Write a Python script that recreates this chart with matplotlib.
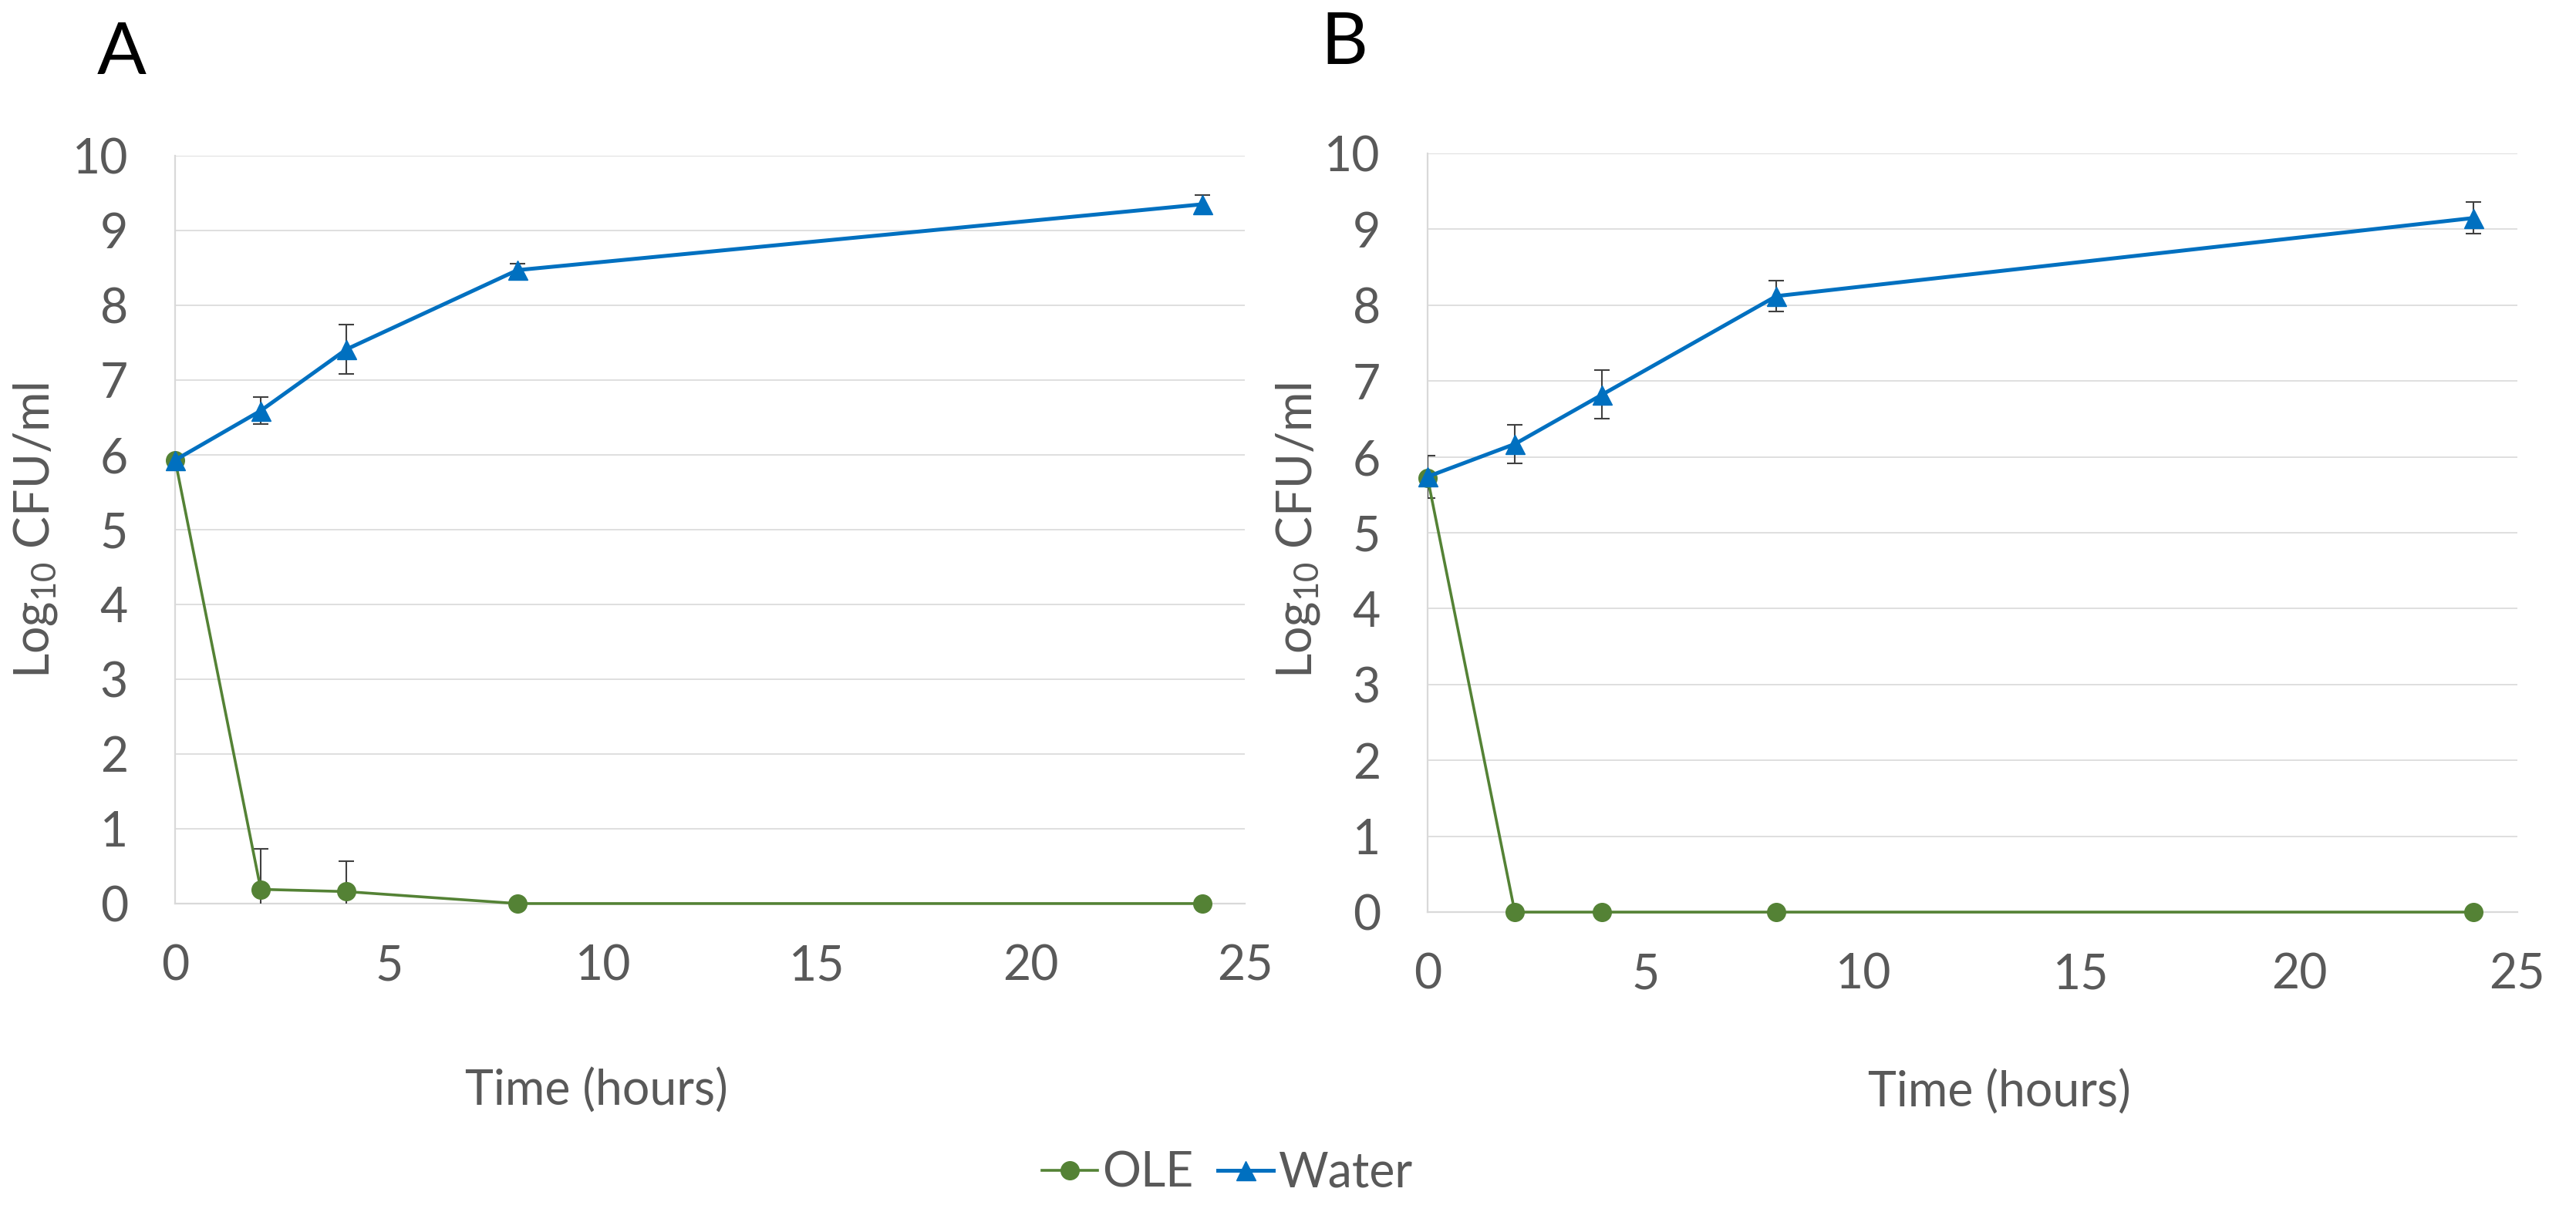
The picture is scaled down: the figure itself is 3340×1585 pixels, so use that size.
import matplotlib
matplotlib.use('Agg')
import matplotlib.pyplot as plt

# Données (Log10 CFU/ml en fonction du temps)
temps = [0, 2, 4, 8, 24]

# Panneau A
ole_A = [5.93, 0.19, 0.16, 0.0, 0.0]
ole_A_err = [0.0, 0.54, 0.41, 0.0, 0.0]
eau_A = [5.93, 6.59, 7.41, 8.47, 9.35]
eau_A_err = [0.05, 0.18, 0.33, 0.09, 0.12]

# Panneau B
ole_B = [5.72, 0.0, 0.0, 0.0, 0.0]
ole_B_err = [0.0, 0.0, 0.0, 0.0, 0.0]
eau_B = [5.74, 6.17, 6.82, 8.12, 9.15]
eau_B_err = [0.28, 0.25, 0.32, 0.20, 0.21]

x_ticks = [0, 5, 10, 15, 20, 25]
y_ticks = list(range(0, 11))

vert = '#548235'
bleu = '#0070C0'
gris_texte = '#595959'
gris_grille = '#D9D9D9'

plt.rcParams['font.family'] = ['Lato', 'DejaVu Sans']
plt.rcParams['mathtext.fontset'] = 'custom'
plt.rcParams['mathtext.rm'] = 'Lato'
plt.rcParams['mathtext.it'] = 'Lato:italic'

fig = plt.figure(figsize=(33.4, 15.85), dpi=100)
axA = fig.add_axes([0.068, 0.2606, 0.4153, 0.612])
axB = fig.add_axes([0.5542, 0.2536, 0.4230, 0.6208])


def tracer(ax, ole, ole_err, eau, eau_err):
    lignes = []
    for y, err, couleur, marqueur, lw, ms in [(ole, ole_err, vert, 'o', 2.6, 17),
                                              (eau, eau_err, bleu, '^', 3.6, 18)]:
        l, caps, barres = ax.errorbar(temps, y, yerr=err, color=couleur, marker=marqueur,
                                      ms=ms, lw=lw, ecolor='#404040', elinewidth=1.5,
                                      capsize=7, capthick=1.5, zorder=3)
        l.set_clip_on(False)
        lignes.append(l)
    ax.set_xlim(0, 25)
    ax.set_ylim(0, 10)
    ax.set_xticks(x_ticks)
    ax.set_yticks(y_ticks)
    ax.grid(axis='y', color=gris_grille, lw=1.2)
    ax.set_axisbelow(True)
    for s in ['top', 'right']:
        ax.spines[s].set_visible(False)
    for s in ['left', 'bottom']:
        ax.spines[s].set_color(gris_grille)
        ax.spines[s].set_linewidth(1.6)
    ax.tick_params(axis='both', length=0, labelsize=45, labelcolor=gris_texte)
    ax.tick_params(axis='x', pad=38)
    ax.tick_params(axis='y', pad=44)
    return lignes


lignes = tracer(axA, ole_A, ole_A_err, eau_A, eau_A_err)
tracer(axB, ole_B, ole_B_err, eau_B, eau_B_err)

# Titres des axes
ylab = r'Log$_{\mathrm{10}}$ CFU/ml'
fig.text(46 / 3340, 1 - 688 / 1585, ylab, rotation=90, ha='center', va='center',
         fontsize=45, color=gris_texte)
fig.text(1683 / 3340, 1 - 688 / 1585, ylab, rotation=90, ha='center', va='center',
         fontsize=45, color=gris_texte)
fig.text(773 / 3340, 1 - 1415 / 1585, 'Time (hours)', ha='center', va='center',
         fontsize=45, color=gris_texte)
fig.text(2592 / 3340, 1 - 1417 / 1585, 'Time (hours)', ha='center', va='center',
         fontsize=45, color=gris_texte)

# Lettres des panneaux
fig.text(158 / 3340, 1 - 70 / 1585, 'A', ha='center', va='center', fontsize=68, color='black')
fig.text(1743 / 3340, 1 - 57 / 1585, 'B', ha='center', va='center', fontsize=68, color='black')

# Légende
leg = fig.legend(lignes, ['OLE', 'Water'], loc='center', bbox_to_anchor=(1591 / 3340, 1 - 1522 / 1585),
                 ncol=2, frameon=False, fontsize=45, handlelength=1.15, handletextpad=0.1,
                 columnspacing=0.5, labelcolor=gris_texte)

plt.savefig('out.png', dpi=100)
